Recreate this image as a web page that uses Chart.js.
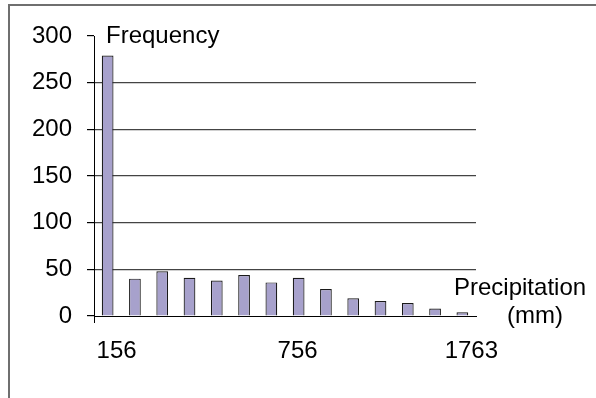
<!DOCTYPE html>
<html>
<head>
<meta charset="utf-8">
<script src="https://cdn.jsdelivr.net/npm/chart.js@4/dist/chart.umd.min.js"></script>
<style>
  html, body { margin: 0; padding: 0; background: #fff; overflow: hidden; }
  #wrap { position: relative; width: 596px; height: 398px; }
  #frame { position: absolute; left: 8px; top: 4px; width: 700px; height: 500px;
           border-left: 2px solid #6f6f6f; border-top: 2px solid #6f6f6f; pointer-events: none; }
  canvas { position: absolute; left: 0; top: 0; }
</style>
</head>
<body>
<div id="wrap">
  <canvas id="c" width="596" height="398"></canvas>
  <div id="frame"></div>
</div>
<script>
// ---- data ----
const categories = ['156', '', '', '', '', '', '', '756   ', '', '', '', '', '', '1763'];
const frequency = [279, 40, 48, 41, 38, 44, 36, 41, 29, 19, 16, 14, 8, 4];
const yTicks = [0, 50, 100, 150, 200, 250, 300];
const yTitle = 'Frequency';
const xTitleLines = ['Precipitation', '(mm)'];

const FONT = "'Liberation Sans', Arial, sans-serif";
const FSIZE = 24;

const axisTitles = {
  id: 'axisTitles',
  afterDraw(chart) {
    const { ctx, chartArea } = chart;
    ctx.save();
    ctx.fillStyle = '#000';
    ctx.font = FSIZE + 'px ' + FONT;
    ctx.textBaseline = 'alphabetic';
    ctx.textAlign = 'left';
    ctx.fillText(yTitle, chartArea.left + 12, chartArea.top + 7);
    ctx.fillText(xTitleLines[0], chartArea.right - 22, chartArea.bottom - 21);
    ctx.fillText(xTitleLines[1], chartArea.right + 31, chartArea.bottom + 7);
    ctx.restore();
  }
};

new Chart(document.getElementById('c'), {
  type: 'bar',
  data: {
    labels: categories,
    datasets: [{
      data: frequency,
      backgroundColor: '#a7a1cc',
      borderColor: '#1a1a1a',
      borderWidth: 1.2,
      barPercentage: 0.43,
      categoryPercentage: 1.0
    }]
  },
  options: {
    responsive: false,
    animation: false,
    devicePixelRatio: 1,
    layout: { padding: { left: 10, top: 36, right: 120, bottom: 31 } },
    plugins: { legend: { display: false }, tooltip: { enabled: false }, title: { display: false } },
    scales: {
      x: {
        offset: true,
        grid: {
          offset: true,
          drawOnChartArea: false,
          drawTicks: true,
          tickLength: 7,
          color: (ctx) => ctx.index === 0 ? '#000' : 'rgba(0,0,0,0)'
        },
        border: { display: true, color: '#000', width: 1 },
        ticks: {
          autoSkip: false, maxRotation: 0, minRotation: 0,
          padding: 14, labelOffset: 9,
          color: '#000', font: { family: FONT, size: FSIZE }
        },
        afterFit(scale) { scale.height = 51; }
      },
      y: {
        min: 0, max: 300,
        afterBuildTicks(scale) { scale.ticks = yTicks.map(v => ({ value: v })); },
        grid: {
          drawTicks: true,
          tickLength: 7,
          lineWidth: 1.2,
          tickColor: '#000',
          color: (ctx) => (ctx.tick && (ctx.tick.value === 300 || ctx.tick.value === 0)) ? 'rgba(0,0,0,0)' : '#444'
        },
        border: { display: true, color: '#000', width: 1 },
        ticks: {
          padding: 15,
          color: '#000', font: { family: FONT, size: FSIZE }
        },
        afterFit(scale) { scale.width = 84; }
      }
    }
  },
  plugins: [axisTitles]
});
</script>
</body>
</html>
